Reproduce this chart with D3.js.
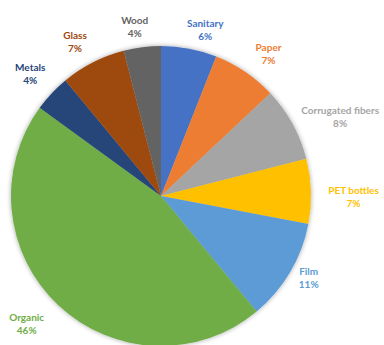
<!DOCTYPE html>
<html>
<head>
<meta charset="utf-8">
<script src="https://cdn.jsdelivr.net/npm/d3@7"></script>
<style>
  html, body { margin: 0; padding: 0; background: #fff; }
  svg { display: block; }
</style>
</head>
<body>
<svg id="chart" width="384" height="345"></svg>
<script>
// Waste composition by category (share of total, %)
const categories = ["Sanitary", "Paper", "Corrugated fibers", "PET bottles", "Film", "Organic", "Metals", "Glass", "Wood"];
const shares     = [6, 7, 8, 7, 11, 46, 4, 7, 4];
const colors     = ["#4472C4", "#ED7D31", "#A5A5A5", "#FFC000", "#5B9BD5", "#70AD47", "#264478", "#9E480E", "#636363"];

// fine adjustment of each label box after radial placement [dx, dy]
const labelNudge = [[10, 7], [8, 3], [1, 6], [3, 6], [-2, -8], [-10, -1], [0, -2], [-6, 3], [-4, 6]];

const width = 384, height = 345;
const cx = 161, cy = 196, radius = 150;

const svg = d3.select("#chart");

// soft shadow under the pie
const defs = svg.append("defs");
const f = defs.append("filter").attr("id", "shadow")
  .attr("x", "-10%").attr("y", "-10%").attr("width", "120%").attr("height", "120%");
f.append("feGaussianBlur").attr("in", "SourceAlpha").attr("stdDeviation", 2.5).attr("result", "b");
f.append("feComponentTransfer").attr("in", "b").attr("result", "s")
  .append("feFuncA").attr("type", "linear").attr("slope", 0.35);
const m = f.append("feMerge");
m.append("feMergeNode").attr("in", "s");
m.append("feMergeNode").attr("in", "SourceGraphic");

const data = categories.map((c, i) => ({ name: c, value: shares[i], color: colors[i] }));

const pie = d3.pie().value(d => d.value).sort(null);
const arcs = pie(data);
const arc = d3.arc().innerRadius(0).outerRadius(radius);

const g = svg.append("g").attr("transform", `translate(${cx},${cy})`);

g.append("g").attr("filter", "url(#shadow)")
  .selectAll("path")
  .data(arcs)
  .join("path")
  .attr("d", arc)
  .attr("fill", d => d.data.color);

// outside labels: box placed so its nearest edge sits just beyond the rim
const gap = 14, lineH = 13;
const labels = g.append("g")
  .attr("font-family", "Lato, 'Open Sans', sans-serif")
  .attr("font-weight", "bold")
  .attr("font-size", 10)
  .attr("text-anchor", "middle");

arcs.forEach((a, i) => {
  const mid = (a.startAngle + a.endAngle) / 2;
  const sx = Math.sin(mid), sy = -Math.cos(mid);
  const t = labels.append("text").attr("fill", a.data.color);
  t.append("tspan").attr("x", 0).attr("dy", 0).text(a.data.name);
  t.append("tspan").attr("x", 0).attr("dy", lineH).text(d3.format(".0%")(a.data.value / 100));
  const bb = t.node().getBBox();
  const hw = bb.width / 2, hh = bb.height / 2;
  const ax = sx * (radius + gap), ay = sy * (radius + gap);
  const bx = ax + sx * hw + labelNudge[i][0];
  const by = ay + sy * hh + labelNudge[i][1];
  const yOff = by - (bb.y + hh);
  t.attr("transform", `translate(${bx},${yOff})`);
});
</script>
</body>
</html>
